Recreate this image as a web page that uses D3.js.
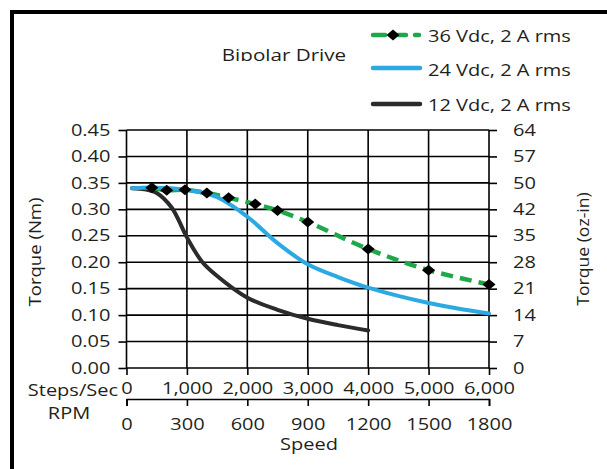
<!DOCTYPE html>
<html><head><meta charset="utf-8">
<script src="https://cdn.jsdelivr.net/npm/d3@7"></script>
<style>
body{margin:0;background:#fff;}
text{font-family:"Open Sans",sans-serif;fill:#231f20;}
</style></head>
<body><svg id="c" width="607" height="469"></svg>
<script>
// ---- data ----
const stepTicks = [0,1000,2000,3000,4000,5000,6000];
const stepLabels = ["0","1,000","2,000","3,000","4,000","5,000","6,000"];
const rpmLabels = ["0","300","600","900","1200","1500","1800"];
const nmTicks = [0,0.05,0.10,0.15,0.20,0.25,0.30,0.35,0.40,0.45];
const nmLabels = ["0.00","0.05","0.10","0.15","0.20","0.25","0.30","0.35","0.40","0.45"];
const ozLabels = ["0","7","14","21","28","35","42","50","57","64"];
const seriesNames = ["36 Vdc, 2 A rms","24 Vdc, 2 A rms","12 Vdc, 2 A rms"];
const speed36 = [420,665,968,1330,1690,2130,2500,3000,4000,5000,6000];
const torque36 = [0.341,0.336,0.337,0.331,0.322,0.310,0.298,0.276,0.225,0.185,0.158];
const speed24 = [90,500,1000,1500,2000,2500,3000,3500,4000,5000,6000];
const torque24 = [0.340,0.341,0.337,0.323,0.286,0.236,0.196,0.172,0.152,0.123,0.103];
const speed12 = [90,300,500,750,1000,1250,1500,2000,2500,3000,3500,4000];
const torque12 = [0.340,0.338,0.331,0.303,0.247,0.201,0.174,0.133,0.110,0.093,0.081,0.071];

const svg = d3.select("#c");
const L=126.5, R=489, T=130, B=368;
const x = d3.scaleLinear().domain([0,6000]).range([L,R]);
const y = d3.scaleLinear().domain([0,0.45]).range([B,T]);
const K = 1.25;   // horizontal glyph stretch
const FS = "16px";

// frame
svg.append("path").attr("d",`M12,469 L12,12 L607,12`).attr("fill","none").attr("stroke","#000").attr("stroke-width",4);

// grid
const g = svg.append("g");
g.selectAll("line.h").data(nmTicks).join("line")
  .attr("x1",L).attr("x2",R).attr("y1",d=>y(d)).attr("y2",d=>y(d))
  .attr("stroke","#000").attr("stroke-width",1.6);
g.selectAll("line.v").data(stepTicks).join("line")
  .attr("x1",d=>x(d)).attr("x2",d=>x(d)).attr("y1",T).attr("y2",B)
  .attr("stroke","#000").attr("stroke-width",1.6);

function styleAxis(sel){
  sel.selectAll("line").attr("stroke","#000").attr("stroke-width",1.6);
  sel.selectAll("path.domain").attr("stroke","#000").attr("stroke-width",1.6);
  sel.selectAll("text").style("font-size",FS).attr("fill","#231f20")
    .attr("transform",function(){const tx=+(this.getAttribute("x")||0);return `translate(${tx},0) scale(${K},1) translate(${-tx},0)`;});
}
// left axis
svg.append("g").attr("transform",`translate(${L},0)`)
  .call(d3.axisLeft(y).tickValues(nmTicks).tickFormat((d,i)=>nmLabels[i]).tickSize(8).tickPadding(8))
  .call(s=>s.select(".domain").remove()).call(styleAxis);
// right axis
svg.append("g").attr("transform",`translate(${R},0)`)
  .call(d3.axisRight(y).tickValues(nmTicks).tickFormat((d,i)=>ozLabels[i]).tickSize(8).tickPadding(16))
  .call(s=>s.select(".domain").remove()).call(styleAxis);
// bottom steps axis
svg.append("g").attr("transform",`translate(0,${B})`)
  .call(d3.axisBottom(x).tickValues(stepTicks).tickFormat((d,i)=>stepLabels[i]).tickSize(7).tickPadding(8))
  .call(s=>s.select(".domain").remove()).call(styleAxis);
// rpm axis
svg.append("g").attr("transform",`translate(0,399)`)
  .call(d3.axisBottom(x).tickValues(stepTicks).tickFormat((d,i)=>rpmLabels[i]).tickSize(7).tickSizeOuter(7).tickPadding(13))
  .call(styleAxis);

function txt(px,py,s,anchor,size,k,rot){
  return svg.append("text").attr("transform",`translate(${px},${py})${rot?" rotate(-90)":""} scale(${k},1)`)
    .attr("text-anchor",anchor).style("font-size",size).text(s);
}
// axis titles
txt(118,396,"Steps/Sec","end",FS,K);
txt(69,419,"RPM","middle",FS,K);
txt(309,450,"Speed","middle",FS,K);
txt(41,252,"Torque (Nm)","middle",FS,1.16,true);
txt(589,249,"Torque (oz-in)","middle",FS,1.1,true);

// title (clipped at baseline)
svg.append("clipPath").attr("id","tc").append("rect").attr("x",0).attr("y",0).attr("width",607).attr("height",61);
svg.append("g").attr("clip-path","url(#tc)").append("text")
  .attr("transform",`translate(284,61) scale(${K},1)`).attr("text-anchor","middle")
  .style("font-size","16.5px").text("Bipolar Drive");

// series
const line = d3.line().x(d=>x(d[0])).y(d=>y(d[1])).curve(d3.curveCatmullRom.alpha(0.5));
const d12 = speed12.map((s,i)=>[s,torque12[i]]);
const d24 = speed24.map((s,i)=>[s,torque24[i]]);
const d36 = speed36.map((s,i)=>[s,torque36[i]]);
svg.append("path").attr("d",line(d12)).attr("fill","none").attr("stroke","#2b2b2b").attr("stroke-width",4).attr("stroke-linecap","round");
svg.append("path").attr("d",line(d36)).attr("fill","none").attr("stroke","#1fa84a").attr("stroke-width",4.5).attr("stroke-dasharray","12,7");
svg.append("path").attr("d",line(d24)).attr("fill","none").attr("stroke","#2aa9e3").attr("stroke-width",4).attr("stroke-linecap","round");
const diamond = {draw(ctx,size){const w=6.5,h=5.5;ctx.moveTo(0,-h);ctx.lineTo(w,0);ctx.lineTo(0,h);ctx.lineTo(-w,0);ctx.closePath();}};
svg.selectAll("path.mk").data(d36).join("path").attr("class","mk")
  .attr("transform",d=>`translate(${x(d[0])},${y(d[1])})`)
  .attr("d",d3.symbol().type(diamond)()).attr("fill","#000");

// legend
const legY = [35,68,104];
const legText = [42,76,111];
const lg = svg.append("g");
lg.append("path").attr("d",`M373,${legY[0]}L385,${legY[0]}M398,${legY[0]}L406,${legY[0]}M415,${legY[0]}L419,${legY[0]}`).attr("stroke","#1fa84a").attr("stroke-width",4.5).attr("stroke-linecap","round");
lg.append("path").attr("transform",`translate(393,${legY[0]})`).attr("d",d3.symbol().type(diamond)()).attr("fill","#000");
lg.append("line").attr("x1",373).attr("x2",420).attr("y1",legY[1]).attr("y2",legY[1]).attr("stroke","#2aa9e3").attr("stroke-width",4.5).attr("stroke-linecap","round");
lg.append("line").attr("x1",373).attr("x2",420).attr("y1",legY[2]).attr("y2",legY[2]).attr("stroke","#2b2b2b").attr("stroke-width",4.5).attr("stroke-linecap","round");
seriesNames.forEach((s,i)=>txt(428,legText[i],s,"start",FS,K));
</script></body></html>
